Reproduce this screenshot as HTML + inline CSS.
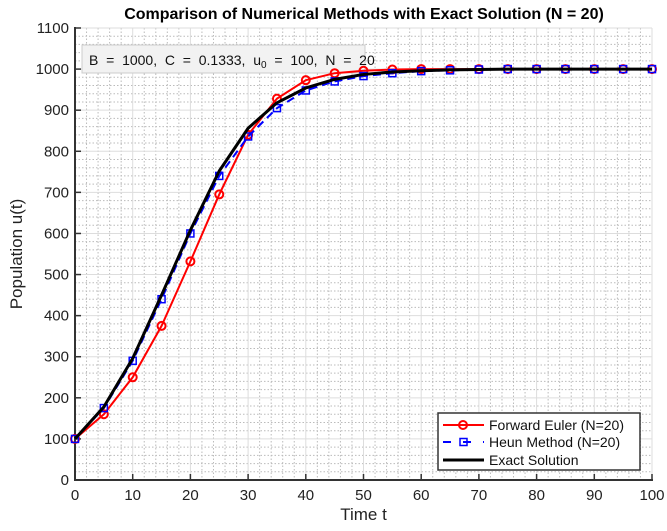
<!DOCTYPE html>
<html><head><meta charset="utf-8"><style>
body{margin:0;background:#fff;}
svg{display:block;font-family:"Liberation Sans",sans-serif;}
</style></head><body>
<svg id="chart" width="667" height="531"></svg>
<script>
const tVals=[0,5,10,15,20,25,30,35,40,45,50,55,60,65,70,75,80,85,90,95,100];
const eulerVals=[100,160,250,375,532,695,840,928,973,990,996,999,1000,1000,1000,1000,1000,1000,1000,1000,1000];
const heunVals=[100,175,290,440,600,740,836,905,948,970,983,990,995,997,999,1000,1000,1000,1000,1000,1000];
const exactVals=[100,178,296,450,608,752,856,918,954,975,987,993,996,998,999,1000,1000,1000,1000,1000,1000];
const xTicks=[0,10,20,30,40,50,60,70,80,90,100];
const yTicks=[0,100,200,300,400,500,600,700,800,900,1000,1100];
const NS="http://www.w3.org/2000/svg";
const svg=document.getElementById('chart');
const X0=75,X1=652,Y0=480,Y1=28;
const sx=v=>X0+(v-0)/100*(X1-X0);
const sy=v=>Y0-(v/1100)*(Y0-Y1);
function mk(tag,attrs,parent){const e=document.createElementNS(NS,tag);for(const k in attrs)e.setAttribute(k,attrs[k]);(parent||svg).appendChild(e);return e;}
const grid=mk('g',{});


for(let v=0;v<=100;v+=2){if(v%10)mk('line',{x1:sx(v),x2:sx(v),y1:Y1,y2:Y0,stroke:'#bbb','stroke-dasharray':'1.5,2','stroke-width':1},grid);}
for(let v=0;v<=1100;v+=20){if(v%100)mk('line',{x1:X0,x2:X1,y1:sy(v),y2:sy(v),stroke:'#bbb','stroke-dasharray':'1.5,2','stroke-width':1},grid);}
xTicks.forEach(v=>mk('line',{x1:sx(v),x2:sx(v),y1:Y1,y2:Y0,stroke:'#ddd','stroke-width':1},grid));
yTicks.forEach(v=>mk('line',{x1:X0,x2:X1,y1:sy(v),y2:sy(v),stroke:'#ddd','stroke-width':1},grid));
const ax=mk('g',{});


mk('line',{x1:X0,x2:X0,y1:Y1-1,y2:Y0+1,stroke:'#333','stroke-width':2},ax);
mk('line',{x1:X0-1,x2:X1+1,y1:Y0,y2:Y0,stroke:'#333','stroke-width':2},ax);
xTicks.forEach(v=>{
 mk('line',{x1:sx(v),x2:sx(v),y1:Y0,y2:Y0-6,stroke:'#333','stroke-width':1.5},ax);
 const t=mk('text',{x:sx(v),y:Y0+20,'text-anchor':'middle','font-size':15,fill:'#222'},ax);t.textContent=v;
 
 
});
yTicks.forEach(v=>{
 mk('line',{x1:X0,x2:X0+6,y1:sy(v),y2:sy(v),stroke:'#333','stroke-width':1.5},ax);
 const t=mk('text',{x:X0-6,y:sy(v)+5,'text-anchor':'end','font-size':15,fill:'#222'},ax);t.textContent=v;
 
 
});
const xt=mk('text',{x:(X0+X1)/2,y:520,'text-anchor':'middle','font-size':17,fill:'#222'});xt.textContent='Time t';


const yt=mk('text',{x:22,y:254,'text-anchor':'middle','font-size':17,fill:'#222',transform:'rotate(-90 22 254)'});yt.textContent='Population u(t)';


const tt=mk('text',{x:364,y:19,'text-anchor':'middle','font-size':16,'font-weight':'bold',fill:'#000'});tt.textContent='Comparison of Numerical Methods with Exact Solution (N = 20)';


const ann=mk('g',{});


mk('rect',{x:82,y:45,width:283,height:28,fill:'#f2f2f2',stroke:'#ccc'},ann);
const at=mk('text',{x:89,y:65,'font-size':14,fill:'#111',style:'white-space:pre'},ann);
at.innerHTML='B  =  1000,  C  =  0.1333,  u<tspan font-size="10" dy="3">0</tspan><tspan dy="-3">  =  100,  N  =  20</tspan>';
function pts(vals){return tVals.map((t,i)=>sx(t)+','+sy(vals[i])).join(' ');}
const eg=mk('g',{});
mk('polyline',{points:pts(eulerVals),fill:'none',stroke:'#f00','stroke-width':2},eg);
tVals.forEach((t,i)=>{const c=mk('circle',{cx:sx(t),cy:sy(eulerVals[i]),r:4,fill:'none',stroke:'#f00','stroke-width':2},eg);
});
const hg=mk('g',{});
mk('polyline',{points:pts(heunVals),fill:'none',stroke:'#00f','stroke-width':2,'stroke-dasharray':'8,5'},hg);
tVals.forEach((t,i)=>{const r=mk('rect',{x:sx(t)-3.5,y:sy(heunVals[i])-3.5,width:7,height:7,fill:'none',stroke:'#00f','stroke-width':1.5},hg);
});
const xg=mk('g',{});
mk('polyline',{points:pts(exactVals),fill:'none',stroke:'#000','stroke-width':3,'stroke-linejoin':'round'},xg);
const lg=mk('g',{});
mk('rect',{x:438,y:413,width:202,height:57,fill:'#fff',stroke:'#333','stroke-width':1.5},lg);
mk('line',{x1:443,x2:484,y1:425,y2:425,stroke:'#f00','stroke-width':2},lg);
mk('circle',{cx:463,cy:425,r:4,fill:'none',stroke:'#f00','stroke-width':2},lg);
mk('line',{x1:443,x2:484,y1:442,y2:442,stroke:'#00f','stroke-width':2,'stroke-dasharray':'8,12'},lg);
mk('rect',{x:460,y:438.5,width:7,height:7,fill:'none',stroke:'#00f','stroke-width':1.5},lg);
mk('line',{x1:443,x2:484,y1:460,y2:460,stroke:'#000','stroke-width':3},lg);
[['Forward Euler (N=20)',430],['Heun Method (N=20)',447],['Exact Solution',465]].forEach(([s,y])=>{
 const t=mk('text',{x:489,y:y,'font-size':14,fill:'#111'},lg);t.textContent=s;
 });
</script>
</body></html>
